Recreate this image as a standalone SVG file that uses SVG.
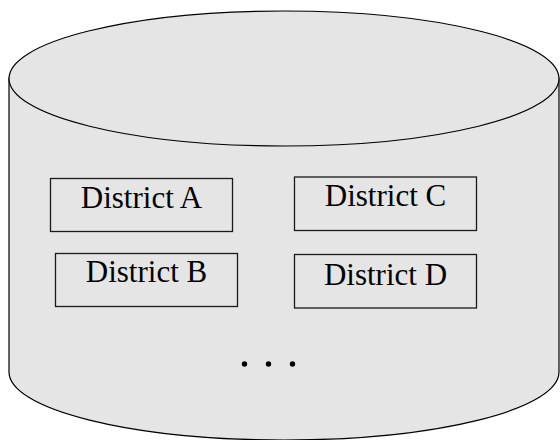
<svg xmlns="http://www.w3.org/2000/svg" width="560" height="440" viewBox="0 0 560 440">
  <style>
    .cyl { fill: #e5e5e5; stroke: #000; stroke-width: 1.2; }
    .box { fill: #e5e5e5; stroke: #1a1a1a; stroke-width: 1.3; }
    .lbl { font-family: "Liberation Serif", "Times New Roman", serif; font-size: 31px; fill: #000; text-anchor: middle; }
    .dot { fill: #000; }
  </style>
  <rect x="0" y="0" width="560" height="440" fill="#ffffff"/>
  <g id="cylinder">
    <path class="cyl" d="M 9 78 L 9 372 A 275 68 0 0 0 559 372 L 559 78 Z"/>
    <ellipse class="cyl" cx="284" cy="78.5" rx="275" ry="67.5"/>
  </g>
  <g id="district-a">
    <rect class="box" x="50.5" y="178.5" width="182" height="53"/>
    <text class="lbl" x="141.5" y="207.5">District A</text>
  </g>
  <g id="district-b">
    <rect class="box" x="55.5" y="253.5" width="182" height="53"/>
    <text class="lbl" x="146.5" y="282">District B</text>
  </g>
  <g id="district-c">
    <rect class="box" x="294.5" y="177" width="182" height="53.5"/>
    <text class="lbl" x="385.5" y="206">District C</text>
  </g>
  <g id="district-d">
    <rect class="box" x="294.5" y="254.5" width="182" height="53.5"/>
    <text class="lbl" x="385.5" y="285">District D</text>
  </g>
  <g id="ellipsis">
    <circle class="dot" cx="244.5" cy="364" r="2.7"/>
    <circle class="dot" cx="268.5" cy="364" r="2.7"/>
    <circle class="dot" cx="292.5" cy="364" r="2.7"/>
  </g>
  <g id="connectors"></g>
</svg>
